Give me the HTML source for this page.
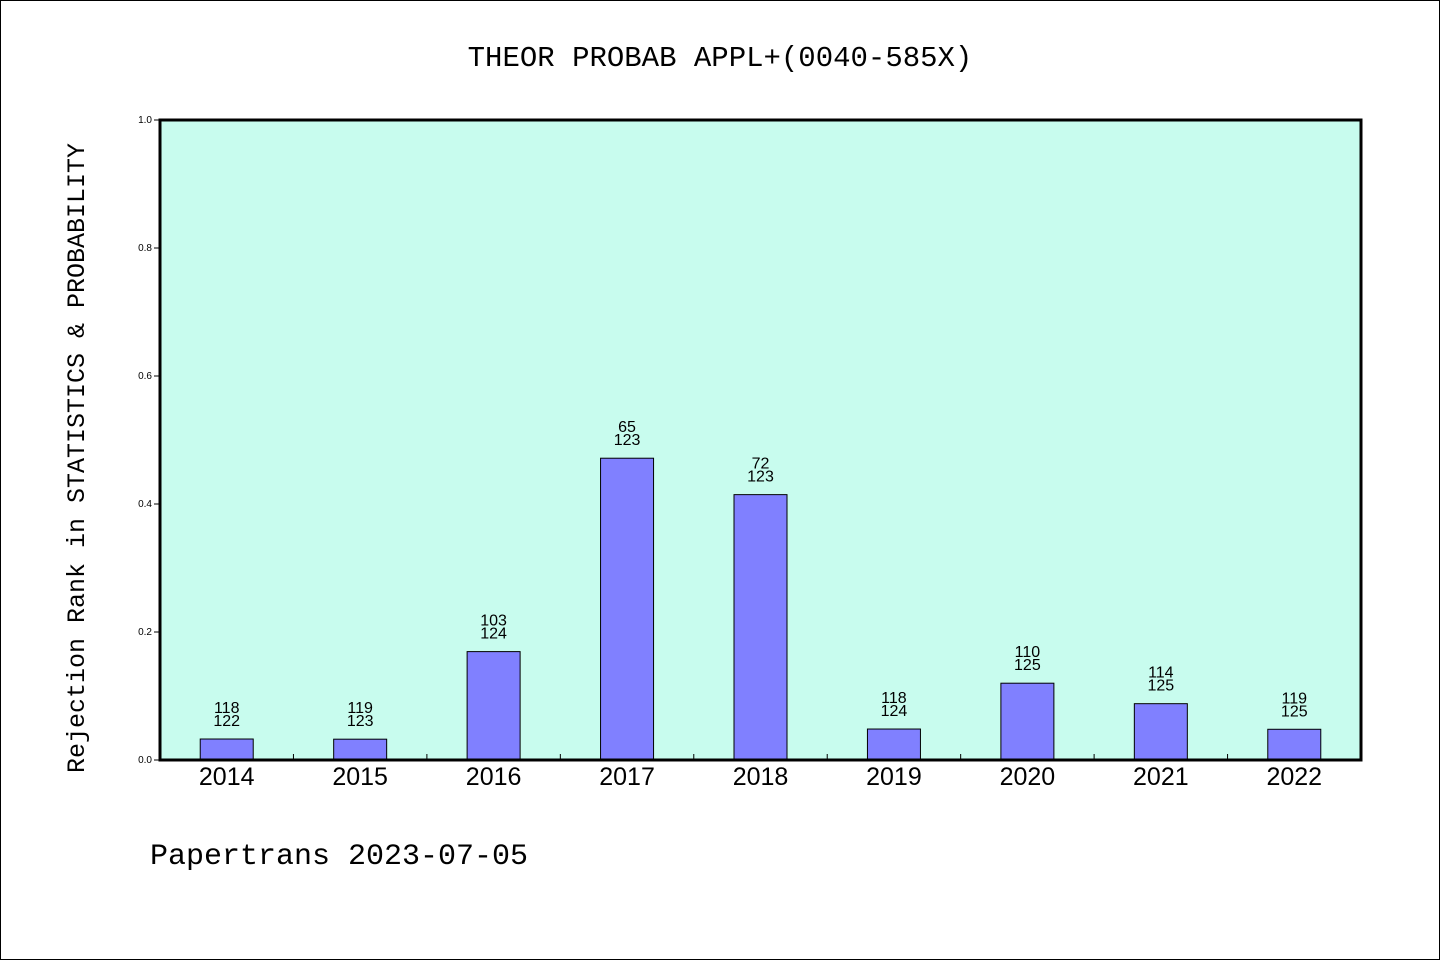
<!DOCTYPE html>
<html><head><meta charset="utf-8"><style>
html,body{margin:0;padding:0;background:#fff}
svg{display:block}
text{font-family:"Liberation Mono","WenQuanYi Zen Hei",monospace;fill:#000}
.s{font-family:"Liberation Sans","WenQuanYi Zen Hei",sans-serif}
</style></head><body>
<svg id="chart" width="1440" height="960">
<rect x="0.5" y="0.5" width="1439" height="959" fill="#fff" stroke="#000"/>
<text x="720" y="66" font-size="29" text-anchor="middle">THEOR PROBAB APPL+(0040-585X)</text>
<text transform="translate(84,458) rotate(-90)" font-size="25" text-anchor="middle">Rejection Rank in STATISTICS &amp; PROBABILITY</text>
<text x="150" y="864" font-size="30">Papertrans 2023-07-05</text>
<rect x="160" y="120" width="1201" height="640" fill="#c8fcee"/>
<g id="ticks"></g>
<g id="bars"></g>
<rect x="160" y="120" width="1201" height="640" fill="none" stroke="#000" stroke-width="3"/>
</svg>
<script>
const years = ["2014","2015","2016","2017","2018","2019","2020","2021","2022"];
const ranks = [118,119,103,65,72,118,110,114,119];
const totals = [122,123,124,123,123,124,125,125,125];
const yTicks = [0,0.2,0.4,0.6,0.8,1.0];
const NS="http://www.w3.org/2000/svg";
const X0=160,X1=1361,Y0=760,Y1=120;
const band=(X1-X0)/years.length;
const xc=i=>X0+band*(i+0.5);
const y=v=>Y0-(Y0-Y1)*v;
function mk(tag,attrs,parent,txt){const e=document.createElementNS(NS,tag);for(const k in attrs)e.setAttribute(k,attrs[k]);if(txt!==undefined)e.textContent=txt;parent.appendChild(e);return e;}
const tg=document.getElementById('ticks'), bg=document.getElementById('bars');
yTicks.forEach(t=>{
  const l=mk('line',{x1:X0-6,x2:X0,y1:y(t),y2:y(t),stroke:'#000'},tg);
  
  
  const tx=mk('text',{x:X0-8,y:y(t)+3,'font-size':10,'text-anchor':'end',class:'s'},tg,t.toFixed(1));
  
  
});
for(let i=1;i<years.length;i++){
  const l=mk('line',{x1:X0+band*i,x2:X0+band*i,y1:Y0,y2:Y0-6,stroke:'#000'},tg);
  
  
}
years.forEach((yr,i)=>{
  const v=(totals[i]-ranks[i])/totals[i];
  const w=53;
  const r=mk('rect',{x:xc(i)-w/2,y:y(v),width:w,height:Y0-y(v),fill:'#8080ff',stroke:'#000','stroke-width':1},bg);
  
  
  const a=mk('text',{x:xc(i),y:y(v)-26,'font-size':16,'text-anchor':'middle',class:'s'},bg,String(ranks[i]));
  
  
  const b=mk('text',{x:xc(i),y:y(v)-13,'font-size':16,'text-anchor':'middle',class:'s'},bg,String(totals[i]));
  
  
  const xl=mk('text',{x:xc(i),y:785,'font-size':25,'text-anchor':'middle',class:'s'},bg,yr);
  
  
});
</script>
</body></html>
